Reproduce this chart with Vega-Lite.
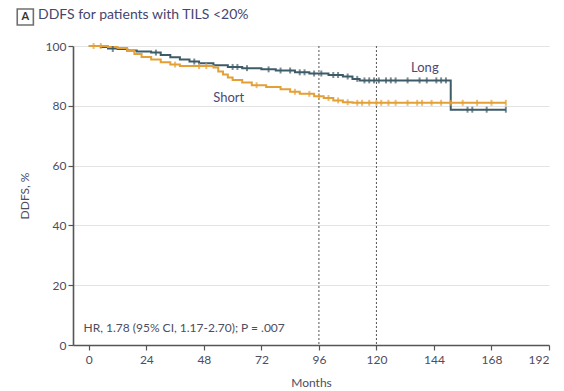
{
  "$schema": "https://vega.github.io/schema/vega-lite/v6.json",
  "width": 476,
  "height": 299,
  "autosize": "none",
  "padding": {"left": 73, "top": 46, "right": 15, "bottom": 46},
  "background": "white",
  "config": {
    "font": "Lato",
    "view": {"stroke": null},
    "axis": {"labelFont": "Lato", "titleFont": "Lato", "labelColor": "#4d4d5e", "titleColor": "#4d4d5e", "labelFontSize": 12, "titleFontSize": 12, "titleFontWeight": "normal", "domainColor": "#555555", "tickColor": "#555555", "domainWidth": 1.6, "tickWidth": 1.2}
  },
  "title": {"text": "DDFS for patients with TILS <20%", "anchor": "start", "frame": "group", "dx": -35, "offset": -16, "fontSize": 14, "fontWeight": "normal", "color": "#45456e", "font": "Lato"},
  "datasets": {
    "curves": [
      {"group": "Long", "month": 0, "surv": 100},
      {"group": "Long", "month": 5, "surv": 99.7},
      {"group": "Long", "month": 8, "surv": 99.2},
      {"group": "Long", "month": 12, "surv": 99},
      {"group": "Long", "month": 16, "surv": 98.5},
      {"group": "Long", "month": 20, "surv": 98.2},
      {"group": "Long", "month": 26, "surv": 97.8},
      {"group": "Long", "month": 30, "surv": 97},
      {"group": "Long", "month": 34, "surv": 96.2},
      {"group": "Long", "month": 38, "surv": 95.5},
      {"group": "Long", "month": 42, "surv": 94.8},
      {"group": "Long", "month": 46, "surv": 94.2},
      {"group": "Long", "month": 52, "surv": 93.6},
      {"group": "Long", "month": 58, "surv": 93},
      {"group": "Long", "month": 64, "surv": 92.6},
      {"group": "Long", "month": 72, "surv": 92.2},
      {"group": "Long", "month": 78, "surv": 91.8},
      {"group": "Long", "month": 86, "surv": 91.2},
      {"group": "Long", "month": 92, "surv": 90.8},
      {"group": "Long", "month": 100, "surv": 90.3},
      {"group": "Long", "month": 106, "surv": 89.8},
      {"group": "Long", "month": 110, "surv": 89},
      {"group": "Long", "month": 113, "surv": 88.5},
      {"group": "Long", "month": 151, "surv": 78.7},
      {"group": "Long", "month": 174, "surv": 78.7},
      {"group": "Short", "month": 0, "surv": 100},
      {"group": "Short", "month": 8, "surv": 99.7},
      {"group": "Short", "month": 12, "surv": 99.3},
      {"group": "Short", "month": 16, "surv": 98.3},
      {"group": "Short", "month": 19, "surv": 97.3},
      {"group": "Short", "month": 22, "surv": 96.3},
      {"group": "Short", "month": 26, "surv": 95.5},
      {"group": "Short", "month": 30, "surv": 94.6},
      {"group": "Short", "month": 34, "surv": 93.8},
      {"group": "Short", "month": 38, "surv": 93.3},
      {"group": "Short", "month": 52, "surv": 92.8},
      {"group": "Short", "month": 54, "surv": 91.5},
      {"group": "Short", "month": 56, "surv": 90.5},
      {"group": "Short", "month": 58, "surv": 89.5},
      {"group": "Short", "month": 60, "surv": 88.6},
      {"group": "Short", "month": 64, "surv": 87.8},
      {"group": "Short", "month": 68, "surv": 86.9},
      {"group": "Short", "month": 74, "surv": 86.3},
      {"group": "Short", "month": 80, "surv": 85.5},
      {"group": "Short", "month": 84, "surv": 84.7},
      {"group": "Short", "month": 88, "surv": 84},
      {"group": "Short", "month": 94, "surv": 83.2},
      {"group": "Short", "month": 98, "surv": 82.6},
      {"group": "Short", "month": 102, "surv": 81.8},
      {"group": "Short", "month": 106, "surv": 81.2},
      {"group": "Short", "month": 110, "surv": 81},
      {"group": "Short", "month": 174, "surv": 81}
    ],
    "censor": [
      {"group": "Long", "month": 10, "surv": 99},
      {"group": "Long", "month": 28, "surv": 97.8},
      {"group": "Long", "month": 44, "surv": 94.8},
      {"group": "Long", "month": 60, "surv": 93},
      {"group": "Long", "month": 62, "surv": 93},
      {"group": "Long", "month": 66, "surv": 92.6},
      {"group": "Long", "month": 75, "surv": 92.2},
      {"group": "Long", "month": 80, "surv": 91.8},
      {"group": "Long", "month": 84, "surv": 91.8},
      {"group": "Long", "month": 88, "surv": 91.2},
      {"group": "Long", "month": 90, "surv": 91.2},
      {"group": "Long", "month": 94, "surv": 90.8},
      {"group": "Long", "month": 97, "surv": 90.8},
      {"group": "Long", "month": 102, "surv": 90.3},
      {"group": "Long", "month": 104, "surv": 90.3},
      {"group": "Long", "month": 108, "surv": 89.8},
      {"group": "Long", "month": 112, "surv": 89},
      {"group": "Long", "month": 115, "surv": 88.5},
      {"group": "Long", "month": 117, "surv": 88.5},
      {"group": "Long", "month": 119, "surv": 88.5},
      {"group": "Long", "month": 121, "surv": 88.5},
      {"group": "Long", "month": 124, "surv": 88.5},
      {"group": "Long", "month": 126, "surv": 88.5},
      {"group": "Long", "month": 128, "surv": 88.5},
      {"group": "Long", "month": 133, "surv": 88.5},
      {"group": "Long", "month": 138, "surv": 88.5},
      {"group": "Long", "month": 141, "surv": 88.5},
      {"group": "Long", "month": 145, "surv": 88.5},
      {"group": "Long", "month": 147, "surv": 88.5},
      {"group": "Long", "month": 149, "surv": 88.5},
      {"group": "Long", "month": 158, "surv": 78.7},
      {"group": "Long", "month": 160, "surv": 78.7},
      {"group": "Long", "month": 166, "surv": 78.7},
      {"group": "Long", "month": 174, "surv": 78.7},
      {"group": "Short", "month": 2, "surv": 100},
      {"group": "Short", "month": 5, "surv": 100},
      {"group": "Short", "month": 36, "surv": 93.8},
      {"group": "Short", "month": 46, "surv": 93.3},
      {"group": "Short", "month": 49, "surv": 93.3},
      {"group": "Short", "month": 70, "surv": 86.9},
      {"group": "Short", "month": 86, "surv": 84.7},
      {"group": "Short", "month": 92, "surv": 84},
      {"group": "Short", "month": 96, "surv": 83.2},
      {"group": "Short", "month": 100, "surv": 82.6},
      {"group": "Short", "month": 104, "surv": 81.8},
      {"group": "Short", "month": 108, "surv": 81.2},
      {"group": "Short", "month": 112, "surv": 81},
      {"group": "Short", "month": 114, "surv": 81},
      {"group": "Short", "month": 117, "surv": 81},
      {"group": "Short", "month": 120, "surv": 81},
      {"group": "Short", "month": 122, "surv": 81},
      {"group": "Short", "month": 125, "surv": 81},
      {"group": "Short", "month": 128, "surv": 81},
      {"group": "Short", "month": 133, "surv": 81},
      {"group": "Short", "month": 137, "surv": 81},
      {"group": "Short", "month": 139, "surv": 81},
      {"group": "Short", "month": 143, "surv": 81},
      {"group": "Short", "month": 147, "surv": 81},
      {"group": "Short", "month": 151, "surv": 81},
      {"group": "Short", "month": 156, "surv": 81},
      {"group": "Short", "month": 162, "surv": 81},
      {"group": "Short", "month": 168, "surv": 81},
      {"group": "Short", "month": 174, "surv": 81}
    ],
    "rules": [{"month": 96}, {"month": 120}],
    "labels": [
      {"month": 140.2, "surv": 92.7, "text": "Long"},
      {"month": 58.4, "surv": 82.7, "text": "Short"}
    ]
  },
  "layer": [
    {
      "data": {"name": "rules"},
      "mark": {"type": "rule", "strokeDash": [2, 2], "color": "#555555", "strokeWidth": 1},
      "encoding": {
        "x": {"field": "month", "type": "quantitative", "scale": {"domain": [-6.6, 192], "nice": false}, "axis": {"values": [0, 24, 48, 72, 96, 120, 144, 168, 192], "title": "Months", "grid": false, "tickSize": 5, "labelPadding": 4, "titlePadding": 12}}
      }
    },
    {
      "data": {"name": "curves"},
      "mark": {"type": "line", "interpolate": "step-after", "strokeWidth": 2},
      "encoding": {
        "x": {"field": "month", "type": "quantitative"},
        "y": {"field": "surv", "type": "quantitative", "scale": {"domain": [0, 100], "nice": false}, "axis": {"values": [0, 20, 40, 60, 80, 100], "title": "DDFS, %", "grid": true, "gridColor": "#e3e3e3", "gridWidth": 1.2, "tickSize": 5, "labelPadding": 2, "titlePadding": 14}},
        "color": {"field": "group", "type": "nominal", "scale": {"domain": ["Long", "Short"], "range": ["#3e5b68", "#e3a036"]}, "legend": null}
      }
    },
    {
      "data": {"name": "censor"},
      "mark": {"type": "tick", "orient": "vertical", "size": 6, "thickness": 2},
      "encoding": {
        "x": {"field": "month", "type": "quantitative"},
        "y": {"field": "surv", "type": "quantitative"},
        "color": {"field": "group", "type": "nominal", "legend": null}
      }
    },
    {
      "data": {"name": "labels"},
      "mark": {"type": "text", "fontSize": 13, "color": "#4a4a75", "align": "center", "baseline": "middle"},
      "encoding": {
        "x": {"field": "month", "type": "quantitative"},
        "y": {"field": "surv", "type": "quantitative"},
        "text": {"field": "text"}
      }
    },
    {
      "data": {"values": [{"month": -2.2, "surv": 5.8, "text": "HR, 1.78 (95% CI, 1.17-2.70); P = .007"}]},
      "mark": {"type": "text", "fontSize": 12, "color": "#4d4d5e", "align": "left", "baseline": "middle"},
      "encoding": {
        "x": {"field": "month", "type": "quantitative"},
        "y": {"field": "surv", "type": "quantitative"},
        "text": {"field": "text"}
      }
    },
    {
      "data": {"values": [{"month": -26.5, "surv": 109.7, "text": "A"}]},
      "layer": [
        {"mark": {"type": "point", "shape": "square", "size": 260, "filled": false, "color": "#333333", "strokeWidth": 1.6, "clip": false},
         "encoding": {"x": {"field": "month", "type": "quantitative"}, "y": {"field": "surv", "type": "quantitative"}}},
        {"mark": {"type": "text", "fontSize": 11, "fontWeight": "bold", "color": "#333333", "align": "center", "baseline": "middle", "clip": false},
         "encoding": {"x": {"field": "month", "type": "quantitative"}, "y": {"field": "surv", "type": "quantitative"}, "text": {"field": "text"}}}
      ]
    }
  ]
}
